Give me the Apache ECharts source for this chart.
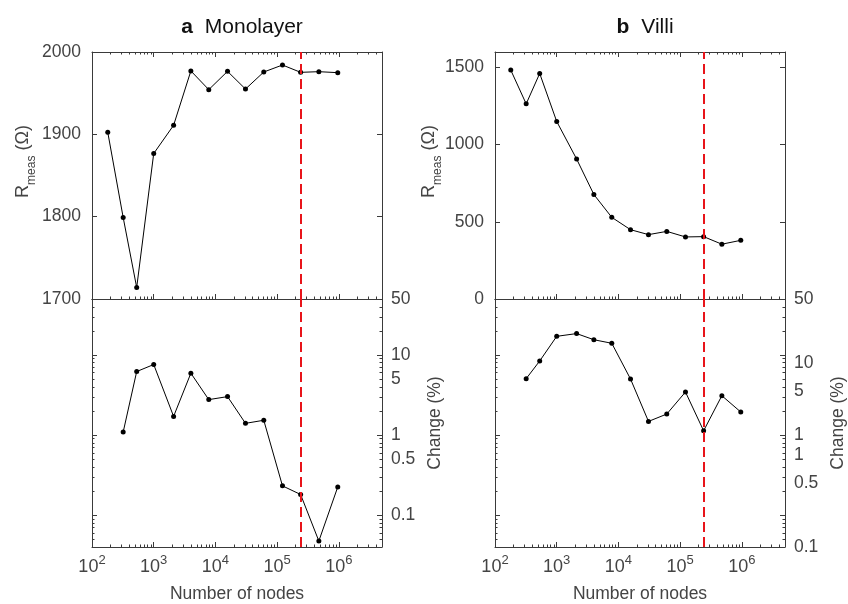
<!DOCTYPE html>
<html>
<head>
<meta charset="utf-8">
<script src="https://cdn.jsdelivr.net/npm/echarts@6/dist/echarts.min.js"></script>
<style>html,body{margin:0;padding:0;background:#fff;}#c{width:848px;height:604px;}</style>
</head>
<body>
<div id="c"></div>
<script>
// ---- data ----
const nodes = [180, 320, 530, 1000, 2100, 4000, 7800, 15700, 30700, 60700, 122000, 240000, 474000, 960000];
const monoR = [1902.5, 1799, 1714, 1876.7, 1911, 1977, 1954.3, 1976.5, 1955, 1975.7, 1984.2, 1975.3, 1976.1, 1974.9];
const monoChange = [1.09, 6.21, 7.6, 1.71, 5.92, 2.77, 3.02, 1.40, 1.53, 0.232, 0.181, 0.0475, 0.225];
const villiR = [1483, 1264, 1461, 1150, 907, 677, 529, 449, 417, 438, 402, 404, 355, 380];
const villiChange = [5.06, 8.41, 17.1, 18.5, 15.5, 14.0, 5.01, 1.48, 1.83, 3.45, 1.13, 3.10, 1.94];
const cutoffNodes = 240000;
const xTickLabels = [100, 1000, 10000, 100000, 1000000];
const rTicksMono = [1700, 1800, 1900, 2000];
const rTicksVilli = [0, 500, 1000, 1500];
const changeLabelsMono = [0.1, 0.5, 1, 5, 10, 50];
const changeLabelsVilliOuter = [0.1, 0.5, 1, 5, 10, 50];
const changeLabelsVilliInner = [1];
const titles = [['a', 'Monolayer'], ['b', 'Villi']];
const xName = 'Number of nodes';
const changeName = 'Change (%)';

// ---- styling / layout ----
const FONT = "'Liberation Sans', Arial, Helvetica, sans-serif";
const AXC = '#3a3a3a';
const TXC = '#444444';
const RED = '#e8141a';
const X_MIN = 100, X_MAX = 5e6;
const C_MIN = 0.04, C_MAX = 50;

function logMinor(lo, hi, e0, e1) {
  const out = [];
  for (let e = e0; e <= e1; e++) {
    for (let m = 2; m <= 9; m++) {
      const v = Number((m * Math.pow(10, e)).toPrecision(6));
      if (v > lo && v < hi) out.push(v);
    }
  }
  return out;
}
const xMinor = logMinor(X_MIN, X_MAX, 2, 6);
const cMajor = [0.1, 1, 10];
const cMinor = logMinor(C_MIN, C_MAX, -2, 1);

const grids = [
  {left: 92, top: 52, width: 290, height: 247},
  {left: 92, top: 299, width: 290, height: 248},
  {left: 495, top: 52, width: 290, height: 247},
  {left: 495, top: 299, width: 290, height: 248}
];

const xAxes = [];
const yAxes = [];

function lineStyle() { return {color: AXC, width: 1}; }

function addX(g, pos, ticks, len, showLine, labels) {
  const ax = {
    type: 'log', logBase: 10, gridIndex: g, min: X_MIN, max: X_MAX, position: pos,
    axisLine: {show: showLine, onZero: false, lineStyle: lineStyle()},
    axisTick: {show: true, inside: true, length: len, customValues: ticks, lineStyle: lineStyle()},
    axisLabel: {show: false},
    splitLine: {show: false}
  };
  if (labels) {
    ax.axisLabel = {
      show: true, customValues: xTickLabels, margin: 7,
      formatter: function (v) { return '{b|10}{s|' + Math.round(Math.log10(v)) + '}'; },
      rich: {
        b: {fontSize: 18, fontFamily: FONT, color: TXC, lineHeight: 22, verticalAlign: 'bottom'},
        s: {fontSize: 13, fontFamily: FONT, color: TXC, lineHeight: 13, verticalAlign: 'top'}
      }
    };
    ax.name = xName;
    ax.nameLocation = 'middle';
    ax.nameGap = 38;
    ax.nameTextStyle = {fontSize: 17.5, fontFamily: FONT, color: TXC, verticalAlign: 'top'};
  }
  xAxes.push(ax);
  return xAxes.length - 1;
}

function addYValue(g, pos, min, max, ticks, labels, name, nameGap) {
  const ax = {
    type: 'value', gridIndex: g, min: min, max: max, position: pos,
    axisLine: {show: true, onZero: false, lineStyle: lineStyle()},
    axisTick: {show: true, inside: true, length: 5, customValues: ticks, lineStyle: lineStyle()},
    axisLabel: labels ? {show: true, customValues: ticks, margin: 11, fontSize: 17.5, fontFamily: FONT, color: TXC,
      formatter: function (v) { return String(v); }} : {show: false},
    splitLine: {show: false}
  };
  if (name) {
    ax.name = '{r|R}{s|meas}{r| (\u03A9)}';
    ax.nameLocation = 'middle';
    ax.nameRotate = 90;
    ax.nameGap = nameGap;
    ax.nameMoveOverlap = false;
    ax.nameTextStyle = {
      padding: [0, 0, 0, 28],
      rich: {
        r: {fontSize: 18, fontFamily: FONT, color: TXC, lineHeight: 24, verticalAlign: 'top'},
        s: {fontSize: 12, fontFamily: FONT, color: TXC, lineHeight: 12, verticalAlign: 'bottom'}
      }
    };
  }
  yAxes.push(ax);
  return yAxes.length - 1;
}

function addYLog(g, pos, min, max, ticks, len, showLine, labels, name, nameGap) {
  const ax = {
    type: 'log', logBase: 10, gridIndex: g, min: min, max: max, position: pos,
    axisLine: {show: showLine, onZero: false, lineStyle: lineStyle()},
    axisTick: ticks ? {show: true, inside: true, length: len, customValues: ticks, lineStyle: lineStyle()} : {show: false},
    axisLabel: labels ? {
      show: true, customValues: labels, margin: 9, fontSize: 17.5, fontFamily: FONT, color: TXC,
      formatter: function (v) { return String(Number(v.toPrecision(3))); }
    } : {show: false},
    splitLine: {show: false}
  };
  if (name) {
    ax.name = name;
    ax.nameLocation = 'middle';
    ax.nameRotate = 90;
    ax.nameGap = nameGap;
    ax.nameTextStyle = {fontSize: 17.5, fontFamily: FONT, color: TXC};
  }
  yAxes.push(ax);
  return yAxes.length - 1;
}

const xMajorTicks = xTickLabels;

// --- x axes for each grid ---
const xIdx = [];
xIdx[0] = addX(0, 'bottom', xMajorTicks, 5, true, false);
addX(0, 'bottom', xMinor, 2.5, false, false);
addX(0, 'top', xMajorTicks, 5, true, false);
addX(0, 'top', xMinor, 2.5, false, false);
xIdx[1] = addX(1, 'bottom', xMajorTicks, 5, true, true);
addX(1, 'bottom', xMinor, 2.5, false, false);
addX(1, 'top', [], 0, true, false);
xIdx[2] = addX(2, 'bottom', xMajorTicks, 5, true, false);
addX(2, 'bottom', xMinor, 2.5, false, false);
addX(2, 'top', xMajorTicks, 5, true, false);
addX(2, 'top', xMinor, 2.5, false, false);
xIdx[3] = addX(3, 'bottom', xMajorTicks, 5, true, true);
addX(3, 'bottom', xMinor, 2.5, false, false);
addX(3, 'top', [], 0, true, false);

// --- y axes ---
const yIdx = [];
yIdx[0] = addYValue(0, 'left', 1700, 2000, rTicksMono, true, true, 54);
addYValue(0, 'right', 1700, 2000, rTicksMono, false, false, 0);
yIdx[1] = addYLog(1, 'left', C_MIN, C_MAX, cMajor, 5, true, null, null, 0);
addYLog(1, 'left', C_MIN, C_MAX, cMinor, 2.5, false, null, null, 0);
addYLog(1, 'right', C_MIN, C_MAX, cMajor, 5, true, changeLabelsMono, changeName, 44);
addYLog(1, 'right', C_MIN, C_MAX, cMinor, 2.5, false, null, null, 0);
yIdx[2] = addYValue(2, 'left', 0, 1600, rTicksVilli, true, true, 51);
addYValue(2, 'right', 0, 1600, rTicksVilli, false, false, 0);
yIdx[3] = addYLog(3, 'left', C_MIN, C_MAX, cMajor, 5, true, null, null, 0);
addYLog(3, 'left', C_MIN, C_MAX, cMinor, 2.5, false, null, null, 0);
addYLog(3, 'right', C_MIN, C_MAX, cMajor, 5, true, changeLabelsVilliInner, null, 0);
addYLog(3, 'right', C_MIN, C_MAX, cMinor, 2.5, false, null, null, 0);
addYLog(3, 'right', 0.1, C_MAX, null, 0, false, changeLabelsVilliOuter, changeName, 44);

function pairs(xs, ys, offset) {
  return ys.map(function (v, i) { return [xs[i + offset], v]; });
}

function mkSeries(g, data) {
  return {
    type: 'line', xAxisIndex: xIdx[g], yAxisIndex: yIdx[g], data: data,
    symbol: 'circle', symbolSize: 5, showSymbol: true,
    itemStyle: {color: '#000'}, lineStyle: {color: '#000', width: 1},
    animation: false, z: 3,
    markLine: {
      symbol: ['none', 'none'], silent: true, animation: false,
      label: {show: false},
      lineStyle: {color: RED, type: [10, 5], width: 2},
      data: [{xAxis: cutoffNodes}]
    }
  };
}

function titleRich() {
  return {
    a: {fontSize: 21, fontWeight: 'bold', fontFamily: FONT, color: '#111', padding: [0, 12, 0, 0]},
    m: {fontSize: 21, fontWeight: 'normal', fontFamily: FONT, color: '#111'}
  };
}

const option = {
  animation: false,
  backgroundColor: '#fff',
  title: [
    {text: '{a|' + titles[0][0] + '}{m|' + titles[0][1] + '}', left: 237, top: 12, textAlign: 'center',
     textStyle: {fontWeight: 'normal', rich: titleRich()}},
    {text: '{a|' + titles[1][0] + '}{m|' + titles[1][1] + '}', left: 640, top: 12, textAlign: 'center',
     textStyle: {fontWeight: 'normal', rich: titleRich()}}
  ],
  grid: grids,
  xAxis: xAxes,
  yAxis: yAxes,
  series: [
    mkSeries(0, pairs(nodes, monoR, 0)),
    mkSeries(1, pairs(nodes, monoChange, 1)),
    mkSeries(2, pairs(nodes, villiR, 0)),
    mkSeries(3, pairs(nodes, villiChange, 1))
  ]
};

const chart = echarts.init(document.getElementById('c'), null, {renderer: 'canvas'});
chart.setOption(option);
</script>
</body>
</html>
